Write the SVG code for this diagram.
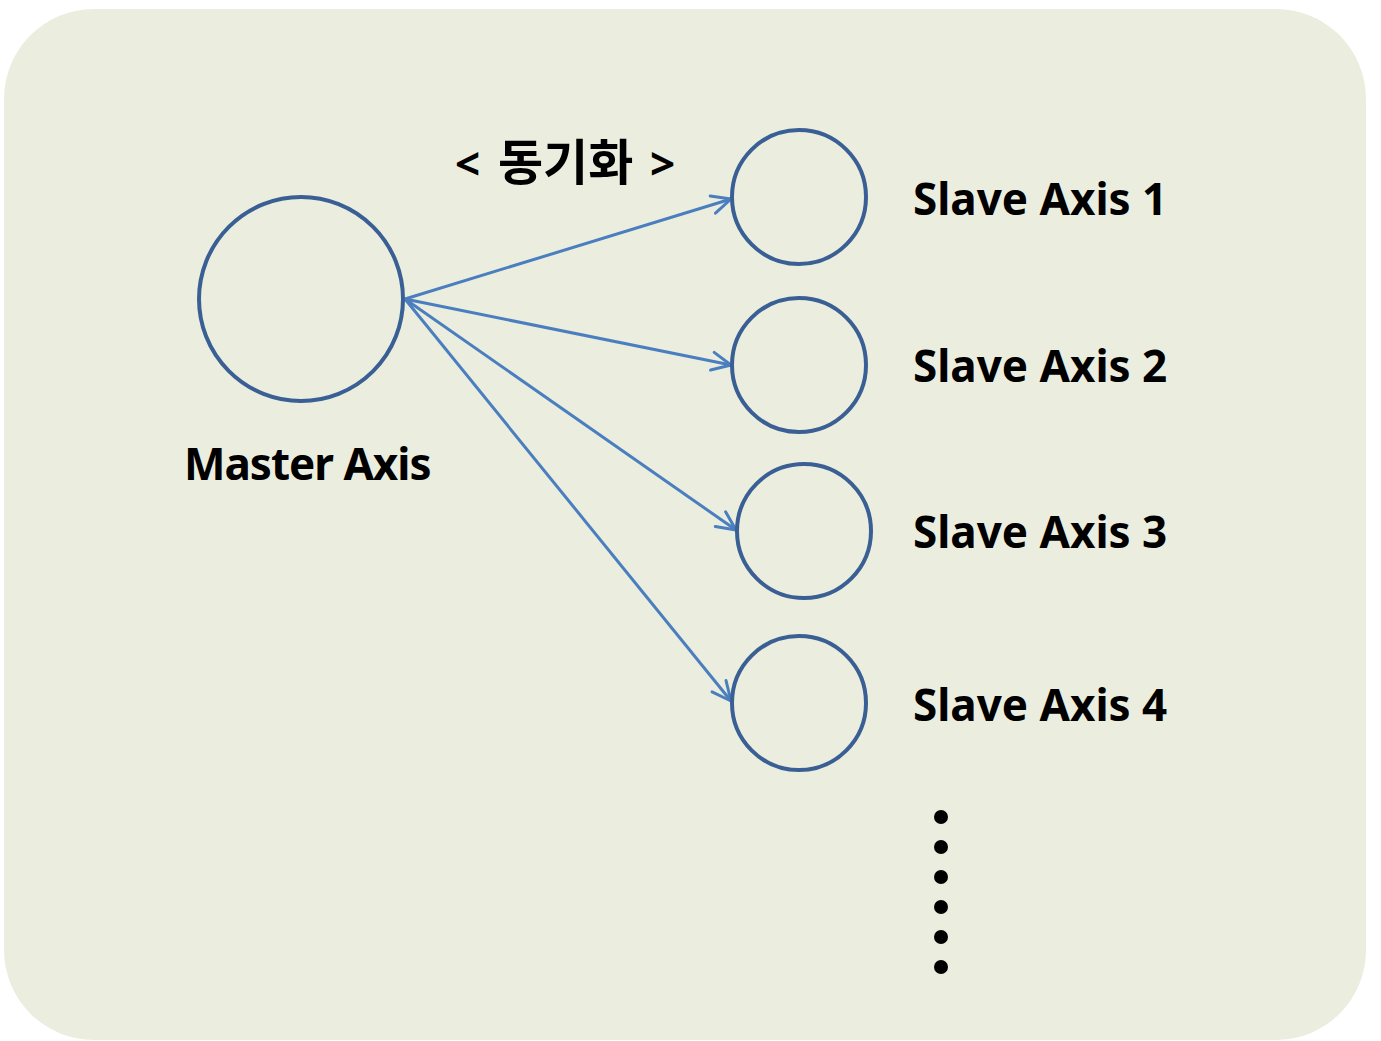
<svg xmlns="http://www.w3.org/2000/svg" width="1381" height="1041" viewBox="0 0 1381 1041">
<style>
.node{fill:none;stroke:#395F94;stroke-width:4}
.lbl{font-family:"Noto Sans","Noto Sans CJK KR",sans-serif;font-weight:bold;font-size:44px;fill:#000}
.conn{stroke:#4A7EBF;stroke-width:3;fill:none;marker-end:url(#arr)}
</style>
<defs>
<marker id="arr" viewBox="0 0 24 24" refX="22" refY="12" markerWidth="24" markerHeight="24" markerUnits="userSpaceOnUse" orient="auto">
<path d="M3,3 L22,12 L3,21" fill="none" stroke="#4A7EBF" stroke-width="3" stroke-linecap="round" stroke-linejoin="round"/>
</marker>
</defs>
<rect x="4" y="9" width="1362" height="1031" rx="90" ry="90" fill="#EBEEDE"/>
<g id="connectors">
<line class="conn" x1="405" y1="299" x2="731" y2="199"/>
<line class="conn" x1="405" y1="299" x2="731" y2="365"/>
<line class="conn" x1="405" y1="299" x2="736" y2="530"/>
<line class="conn" x1="405" y1="299" x2="731" y2="701"/>
</g>
<g id="master"><circle class="node" cx="301" cy="299" r="102"/><text class="lbl" x="184" y="480" letter-spacing="-1">Master Axis</text></g>
<g id="slave1"><circle class="node" cx="799" cy="197" r="67"/><text class="lbl" x="913" y="215">Slave Axis 1</text></g>
<g id="slave2"><circle class="node" cx="799" cy="365" r="67"/><text class="lbl" x="913" y="382">Slave Axis 2</text></g>
<g id="slave3"><circle class="node" cx="804" cy="531" r="67"/><text class="lbl" x="913" y="548">Slave Axis 3</text></g>
<g id="slave4"><circle class="node" cx="799" cy="703" r="67"/><text class="lbl" x="913" y="721">Slave Axis 4</text></g>
<text class="lbl" y="180" font-size="46"><tspan x="455">&lt;</tspan><tspan x="498" font-size="49">동기화</tspan><tspan x="650">&gt;</tspan></text>
<g id="dots" fill="#000">
<circle cx="941" cy="817" r="7"/><circle cx="941" cy="847" r="7"/><circle cx="941" cy="877" r="7"/><circle cx="941" cy="907" r="7"/><circle cx="941" cy="937" r="7"/><circle cx="941" cy="967" r="7"/>
</g>
</svg>
